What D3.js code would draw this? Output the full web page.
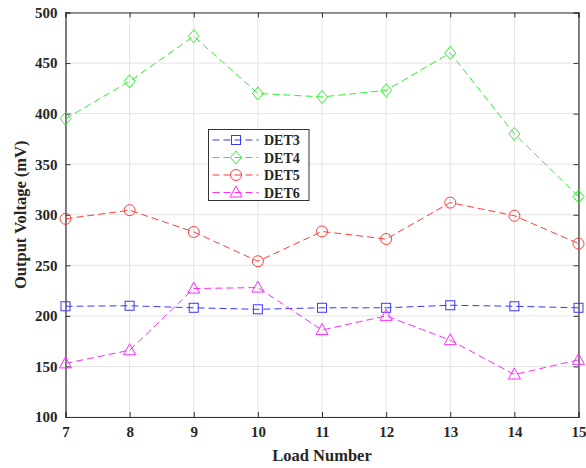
<!DOCTYPE html>
<html>
<head>
<meta charset="utf-8">
<script src="https://cdn.jsdelivr.net/npm/d3@7"></script>
<style>
  body { margin: 0; background: #fff; }
  text { font-family: "Liberation Serif", "Times New Roman", serif; font-weight: bold; fill: #262626; }
</style>
</head>
<body>
<div id="chart"></div>
<script>
// load numbers on the x axis
const loads = [7, 8, 9, 10, 11, 12, 13, 14, 15];

// output voltage (mV)
const det3 = [209.5, 210, 208, 206.5, 208, 208, 210.5, 209.5, 208];
const det4 = [395, 432, 476.5, 420, 416.5, 423, 460, 380, 318];
const det5 = [296, 304.5, 283, 254, 283.5, 276, 312, 299, 271.5];
const det6 = [153, 166, 227, 228, 186, 200, 176, 142, 156.5];

const seriesNames = ['DET3', 'DET4', 'DET5', 'DET6'];
const yTicks = [100, 150, 200, 250, 300, 350, 400, 450, 500];

const width = 586;
const height = 468;
const margin = { top: 12.5, right: 7.5, bottom: 51, left: 65.5 };

const series = [
    { name: seriesNames[0], values: det3, color: '#3838ff', marker: 'square' },
    { name: seriesNames[1], values: det4, color: '#33ee33', marker: 'diamond' },
    { name: seriesNames[2], values: det5, color: '#ff3c3c', marker: 'circle' },
    { name: seriesNames[3], values: det6, color: '#ff2cff', marker: 'triangle' }
];

const svg = d3.select('#chart').append('svg')
    .attr('width', width)
    .attr('height', height);

const x = d3.scaleLinear()
    .domain([7, 15])
    .range([margin.left, width - margin.right]);

const y = d3.scaleLinear()
    .domain([100, 500])
    .range([height - margin.bottom, margin.top]);

// grid lines
const grid = svg.append('g').attr('stroke', '#e3e3e3').attr('stroke-width', 1);
loads.forEach(v => {
    grid.append('line')
        .attr('x1', x(v)).attr('x2', x(v))
        .attr('y1', y(100)).attr('y2', y(500));
});
yTicks.forEach(v => {
    grid.append('line')
        .attr('x1', x(7)).attr('x2', x(15))
        .attr('y1', y(v)).attr('y2', y(v));
});

// axes (MATLAB style box with ticks inside)
const xAxis = svg.append('g')
    .attr('transform', `translate(0,${y(100)})`)
    .call(d3.axisBottom(x).tickValues(loads).tickSize(-5).tickPadding(9).tickFormat(d3.format('d')));
const yAxis = svg.append('g')
    .attr('transform', `translate(${x(7)},0)`)
    .call(d3.axisLeft(y).tickValues(yTicks).tickSize(-5).tickPadding(8));
const xTop = svg.append('g')
    .attr('transform', `translate(0,${y(500)})`)
    .call(d3.axisTop(x).tickValues(loads).tickSize(-5).tickFormat(''));
const yRight = svg.append('g')
    .attr('transform', `translate(${x(15)},0)`)
    .call(d3.axisRight(y).tickValues(yTicks).tickSize(-5).tickFormat(''));

[xAxis, yAxis, xTop, yRight].forEach(a => {
    a.select('.domain').attr('stroke', '#333').attr('stroke-width', 1.2);
    a.selectAll('.tick line').attr('stroke', '#333');
    a.selectAll('.tick text')
        .style('font-family', '"Liberation Serif", serif')
        .style('font-weight', 'bold')
        .style('font-size', '15px')
        .attr('fill', '#262626');
});

// axis titles
svg.append('text')
    .attr('x', (x(7) + x(15)) / 2)
    .attr('y', 461)
    .attr('text-anchor', 'middle')
    .style('font-size', '16.5px')
    .text('Load Number');

svg.append('text')
    .attr('transform', `translate(26,${(y(100) + y(500)) / 2}) rotate(-90)`)
    .attr('text-anchor', 'middle')
    .style('font-size', '16.5px')
    .text('Output Voltage (mV)');

// marker shapes
function drawMarker(g, type, cx, cy, color) {
    if (type === 'square') {
        g.append('rect')
            .attr('x', cx - 4.5).attr('y', cy - 4.5)
            .attr('width', 9).attr('height', 9);
    } else if (type === 'diamond') {
        g.append('path')
            .attr('d', `M${cx},${cy - 6.5}L${cx + 5.5},${cy}L${cx},${cy + 6.5}L${cx - 5.5},${cy}Z`);
    } else if (type === 'circle') {
        g.append('circle').attr('cx', cx).attr('cy', cy).attr('r', 5.5);
    } else if (type === 'triangle') {
        g.append('path')
            .attr('d', `M${cx},${cy - 6.5}L${cx + 6},${cy + 4.5}L${cx - 6},${cy + 4.5}Z`);
    }
    g.selectAll('*').attr('fill', 'none').attr('stroke', color).attr('stroke-width', 1);
}

const line = d3.line()
    .x((d, i) => x(loads[i]))
    .y(d => y(d));

series.forEach(s => {
    svg.append('path')
        .datum(s.values)
        .attr('fill', 'none')
        .attr('stroke', s.color)
        .attr('stroke-width', 1)
        .attr('stroke-dasharray', '7,4')
        .attr('d', line);
    s.values.forEach((v, i) => {
        drawMarker(svg.append('g'), s.marker, x(loads[i]), y(v), s.color);
    });
});

// legend
const legend = svg.append('g').attr('transform', 'translate(208.5,129.5)');
legend.append('rect')
    .attr('width', 100.5).attr('height', 71)
    .attr('fill', '#fff')
    .attr('stroke', '#333')
    .attr('stroke-width', 1);

series.forEach((s, i) => {
    const ly = 10.5 + i * 17.5;
    legend.append('line')
        .attr('x1', 4).attr('x2', 50)
        .attr('y1', ly).attr('y2', ly)
        .attr('stroke', s.color)
        .attr('stroke-dasharray', '7,4');
    drawMarker(legend.append('g'), s.marker, 27.5, ly, s.color);
    legend.append('text')
        .attr('x', 55.5)
        .attr('y', ly + 5)
        .style('font-size', '14px')
        .text(s.name);
});
</script>
</body>
</html>
